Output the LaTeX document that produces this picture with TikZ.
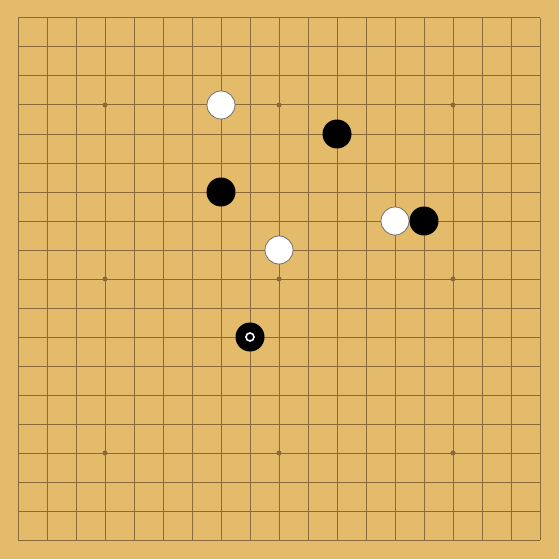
\documentclass[tikz,border=0pt]{standalone}
\definecolor{board}{HTML}{E3BB6A}
\definecolor{gridc}{HTML}{8A6A3A}
\definecolor{rimc}{HTML}{707070}
\tikzset{
  gridline/.style={draw=gridc, line width=1pt},
  hoshi/.style={circle, fill=gridc, inner sep=0pt, minimum size=5pt},
  whitestone/.style={circle, fill=white, draw=rimc, line width=0.8pt, inner sep=0pt, minimum size=28pt},
  blackstone/.style={circle, fill=black, inner sep=0pt, minimum size=29pt},
  lastmove/.style={circle, draw=white, line width=1.6pt, inner sep=0pt, minimum size=8pt}
}
\begin{document}
\begin{tikzpicture}[x=1pt,y=-1pt]
\fill[board] (0,0) rectangle (559,559);
\useasboundingbox (0,0) rectangle (559,559);
\foreach \i in {0,...,18} {
  \draw[gridline] (18+29*\i,18) -- (18+29*\i,540);
  \draw[gridline] (18,18+29*\i) -- (540,18+29*\i);
}
\foreach \a in {3,9,15} {
  \foreach \b in {3,9,15} {
    \node[hoshi] (h\a-\b) at (18+29*\a,18+29*\b) {};
  }
}
\node[whitestone] (w1) at (18+29*7,18+29*3) {};
\node[blackstone] (b1) at (18+29*11,18+29*4) {};
\node[blackstone] (b2) at (18+29*7,18+29*6) {};
\node[whitestone] (w2) at (18+29*13,18+29*7) {};
\node[blackstone] (b3) at (18+29*14,18+29*7) {};
\node[whitestone] (w3) at (18+29*9,18+29*8) {};
\node[blackstone] (b4) at (18+29*8,18+29*11) {};
\node[lastmove] (m) at (b4) {};
\end{tikzpicture}
\end{document}
